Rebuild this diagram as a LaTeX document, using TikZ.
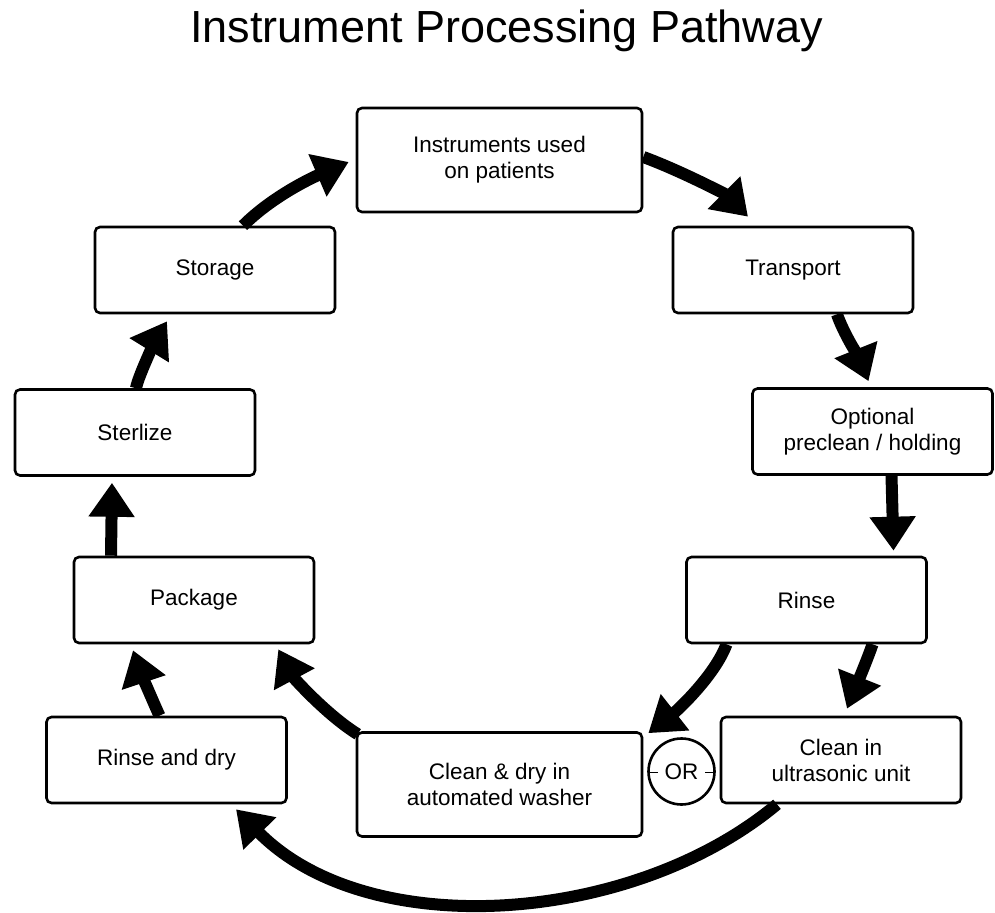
\documentclass[tikz,border=0pt]{standalone}
\usepackage{fontspec}
\setmainfont{Liberation Sans}
\usetikzlibrary{arrows.meta,calc}
\begin{document}
\begin{tikzpicture}[x=0.5pt,y=-0.5pt,
  box/.style={draw=black, line width=1.3pt, rounded corners=2.5pt, align=center, inner sep=0pt,
    font=\fontsize{11.25}{13}\selectfont, minimum width=120pt, minimum height=43pt},
  wide/.style={minimum width=142.5pt, minimum height=52pt},
  arr/.style={line width=6pt, -{Triangle[length=17pt,width=22pt]}},
  tick/.style={line width=0.8pt}
]
\useasboundingbox (0,0) rectangle (995,913);
\node[anchor=base, inner sep=0pt, font=\fontsize{22.5}{27}\selectfont] (title) at (506.5,43) {Instrument Processing Pathway};

\node[box, wide] (inst)  at (499.5,160)  {Instruments used\\on patients};
\node[box] (trans) at (793,270)    {Transport};
\node[box] (pre)   at (872.5,431.5) {Optional\\preclean / holding};
\node[box] (rinse) at (806.5,600)  {Rinse};
\node[box] (ultra) at (841,760)    {Clean in\\ultrasonic unit};
\node[box, wide] (wash) at (499.5,784.5) {Clean \& dry in\\automated washer};
\node[box] (rdry)  at (166.5,760)  {Rinse and dry};
\node[box] (pack)  at (194,600)    {Package};
\node[box] (ster)  at (135,432.5)  {Sterlize};
\node[box] (stor)  at (215,270)    {Storage};

\node[circle, draw=black, line width=1.3pt, minimum size=33pt, inner sep=0pt,
  font=\fontsize{11.25}{13}\selectfont] (orc) at (681.5,771.5) {OR};
\draw[tick] ($(orc.west)+(3,1)$) -- +(8,0);
\draw[tick] ($(orc.east)+(-3,1)$) -- +(-8,0);

\draw[arr] ($(stor.north)+(28,0)$) .. controls +(30,-30) and +(-35,15) .. ($(inst.west)+(-7,2)$);
\draw[arr] ($(inst.east)+(0,-3)$) .. controls +(38,14) and +(-22,-22) .. ($(trans.north)+(-45,-9)$);
\draw[arr] ($(trans.south)+(44,0)$) .. controls +(6,18) and +(-8,-20) .. ($(pre.north)+(-4,-6)$);
\draw[arr] ($(pre.south)+(19,0)$) -- ($(rinse.north)+(87,-5)$);
\draw[arr] ($(rinse.south)+(66,0)$) .. controls +(-5,15) and +(6,-15) .. ($(ultra.north)+(6,-7)$);
\draw[arr] ($(rinse.south)+(-80,0)$) .. controls +(-12,32) and +(28,-22) .. ($(wash.north east)+(5,2)$);
\draw[arr] ($(ultra.south)+(-64,0)$) .. controls +(-145,121) and +(132,134) .. ($(rdry.south)+(69.5,5)$);
\draw[arr] ($(wash.north west)+(2,3)$) .. controls +(-32,-20) and +(15,28) .. ($(pack.south east)+(-37,5)$);
\draw[arr] ($(rdry.north)+(-7,0)$) .. controls +(-7,-15) and +(5,15) .. ($(pack.south)+(-61,6)$);
\draw[arr] ($(pack.north)+(-83,0)$) -- ($(ster.south)+(-23,6)$);
\draw[arr] ($(ster.north)+(1,0)$) .. controls +(3,-15) and +(-8,13) .. ($(stor.south)+(-48,7)$);
\end{tikzpicture}
\end{document}
